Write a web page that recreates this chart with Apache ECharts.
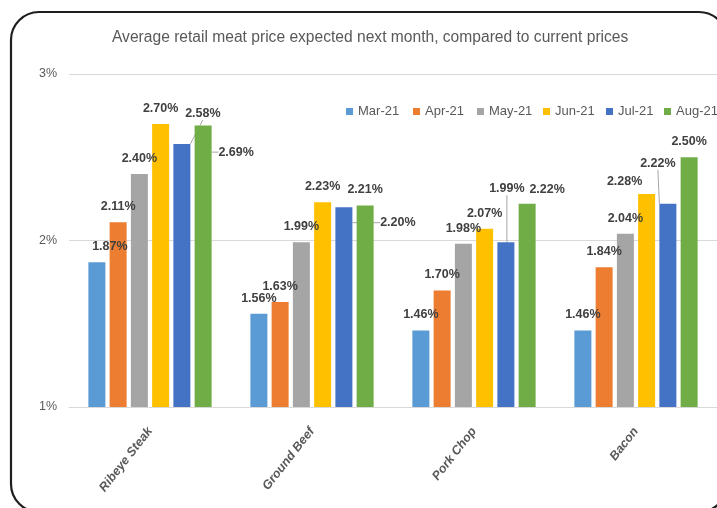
<!DOCTYPE html>
<html>
<head>
<meta charset="utf-8">
<script src="https://cdn.jsdelivr.net/npm/echarts@6/dist/echarts.min.js"></script>
<style>
  html, body { margin: 0; padding: 0; background: #ffffff; }
  #chart { width: 717px; height: 508px; }
</style>
</head>
<body>
<div id="chart"></div>
<script>
// Products and survey months
const categories = ['Ribeye Steak', 'Ground Beef', 'Pork Chop', 'Bacon'];
const months = ['Mar-21', 'Apr-21', 'May-21', 'Jun-21', 'Jul-21', 'Aug-21'];

// Expected price change next month (%), one array per survey month
const mar21 = [1.87, 1.56, 1.46, 1.46];
const apr21 = [2.11, 1.63, 1.70, 1.84];
const may21 = [2.40, 1.99, 1.98, 2.04];
const jun21 = [2.70, 2.23, 2.07, 2.28];
const jul21 = [2.58, 2.20, 1.99, 2.22];
const aug21 = [2.69, 2.21, 2.22, 2.50];

// Value axis range
const yMin = 1, yMax = 3, yStep = 1;

const seriesValues = [mar21, apr21, may21, jun21, jul21, aug21];
const colors = ['#5B9BD5', '#ED7D31', '#A5A5A5', '#FFC000', '#4472C4', '#70AD47'];

// Hand-placed labels: "series-category" -> [dx, dy, draw leader line]
const labelNudges = {
  '0-0': [13, 0, false],
  '4-0': [21, -15, true],
  '5-0': [33, 42, true],
  '4-1': [54, 31, true],
  '4-2': [1, -38, true],
  '5-2': [20, 1, false],
  '3-3': [-22, 3, false],
  '4-3': [-10, -25, true]
};

const FONT = "'Liberation Sans', Arial, sans-serif";
const chart = echarts.init(document.getElementById('chart'), null, { renderer: 'canvas' });

const legendX = [346, 413, 477, 543, 606, 664];

const series = months.map((m, si) => ({
  name: m,
  type: 'bar',
  barWidth: 17,
  barGap: '25%',
  itemStyle: { color: colors[si] },
  label: {
    show: true,
    position: 'top',
    distance: 9,
    formatter: p => p.value.toFixed(2) + '%',
    color: '#404040',
    fontFamily: FONT,
    fontWeight: 'bold',
    fontSize: 12.5
  },
  labelLine: { show: false, lineStyle: { color: '#A6A6A6', width: 1 } },
  labelLayout: p => {
    const n = labelNudges[p.seriesIndex + '-' + p.dataIndex];
    return n ? { dx: n[0], dy: n[1] } : {};
  },
  data: seriesValues[si].map((v, ci) => {
    const n = labelNudges[si + '-' + ci];
    return n && n[2] ? { value: v, labelLine: { show: true } } : { value: v };
  })
}));

chart.setOption({
  animation: false,
  color: colors,
  title: {
    text: 'Average retail meat price expected next month, compared to current prices',
    left: 112,
    top: 30,
    padding: 0,
    textStyle: { fontFamily: FONT, fontSize: 15.6, fontWeight: 'normal', color: '#595959' }
  },
  legend: months.map((m, i) => ({
    data: [m],
    left: legendX[i],
    top: 105,
    padding: 0,
    itemWidth: 7,
    itemHeight: 7,
    icon: 'rect',
    selectedMode: false,
    textStyle: { fontFamily: FONT, fontSize: 13, color: '#595959' }
  })),
  grid: { left: 69, right: -4, top: 74, bottom: 101, containLabel: false },
  xAxis: {
    type: 'category',
    data: categories,
    axisLine: { lineStyle: { color: '#D9D9D9', width: 1 } },
    axisTick: { show: false },
    axisLabel: {
      rotate: 52,
      margin: 22,
      interval: 0,
      color: '#595959',
      fontFamily: FONT,
      fontWeight: 'bold',
      fontStyle: 'italic',
      fontSize: 12.5
    }
  },
  yAxis: {
    type: 'value',
    min: yMin,
    max: yMax,
    interval: yStep,
    axisLine: { show: false },
    axisTick: { show: false },
    splitLine: { lineStyle: { color: '#D9D9D9', width: 1 } },
    axisLabel: {
      margin: 12,
      formatter: v => v + '%',
      color: '#595959',
      fontFamily: FONT,
      fontSize: 12.5
    }
  },
  series: series,
  graphic: [{
    type: 'rect',
    shape: { x: 11, y: 12, width: 716, height: 500, r: 28 },
    style: { fill: 'none', stroke: '#1e1e1e', lineWidth: 2.2 },
    silent: true,
    z: 100
  }]
});
</script>
</body>
</html>
